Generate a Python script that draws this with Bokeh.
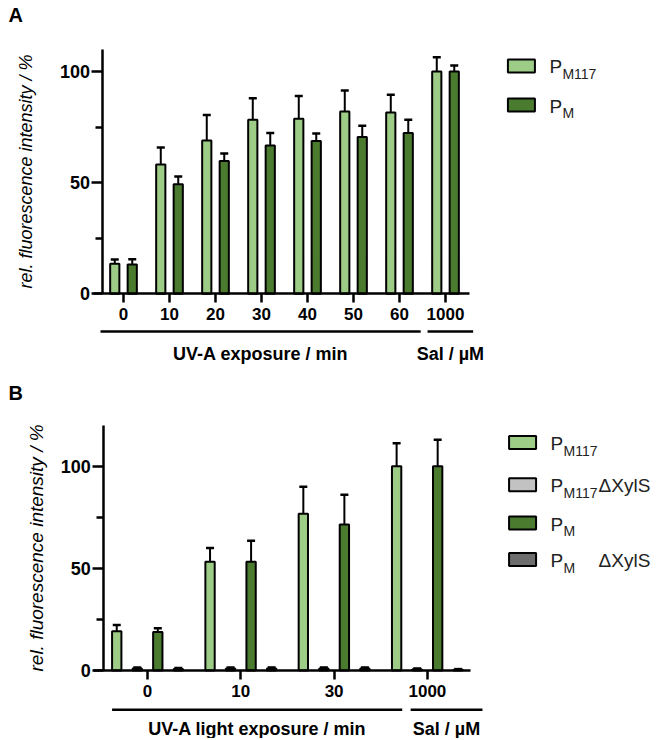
import math
from bokeh.plotting import figure
from bokeh.models import Range1d, LinearAxis, FixedTicker, Whisker, TeeHead, ColumnDataSource
from bokeh.layouts import column
from bokeh.embed import file_html
from bokeh.resources import INLINE
from bokeh.core.properties import value

FONT = "Liberation Sans"

# ---------------- data: panel A ----------------
a_categories = ["0", "10", "20", "30", "40", "50", "60", "1000"]
a_pm117 = [13.5, 58.2, 69.0, 78.3, 78.7, 82.0, 81.6, 100.0]
a_pm117_err = [1.9, 7.6, 11.4, 9.7, 10.3, 9.5, 7.9, 6.4]
a_pm = [13.2, 49.3, 59.7, 66.7, 68.7, 70.5, 72.3, 100.0]
a_pm_err = [2.4, 3.5, 3.4, 5.6, 3.4, 5.1, 6.0, 2.7]
a_groups = ["UV-A exposure / min", "Sal / µM"]

# ---------------- data: panel B ----------------
b_categories = ["0", "10", "30", "1000"]
b_pm117 = [19.2, 53.3, 76.7, 100.0]
b_pm117_err = [3.1, 6.7, 13.3, 11.3]
b_pm117_dx = [1.0, 1.0, 1.0, 0.6]
b_pm117_dx_err = [0.5, 0.5, 0.5, 0.4]
b_pm = [18.8, 53.3, 71.5, 100.0]
b_pm_err = [1.9, 10.2, 14.6, 13.0]
b_pm_dx = [0.8, 1.0, 1.0, 0.4]
b_pm_dx_err = [0.4, 0.5, 0.5, 0.3]
b_groups = ["UV-A light exposure / min", "Sal / µM"]

y_ticks = [0, 50, 100]
y_minor = [25, 75]
y_title = "rel. fluorescence intensity / %"

LIGHT = "#9dcc86"
DARK = "#4b7b2e"
GREY = "#c2c2c2"
DGREY = "#6d6d6d"


def make_fig(w, h, xr, yr):
    p = figure(width=w, height=h, x_range=Range1d(*xr), y_range=Range1d(*yr),
               output_backend="svg", toolbar_location=None,
               x_axis_type=None, y_axis_type=None, min_border=0)
    p.outline_line_color = None
    p.background_fill_color = "white"
    return p


def add_axes(p, yloc, ybounds, xbounds, cats, ytick_size="18px", xtick_size="17px"):
    ya = LinearAxis(fixed_location=yloc, bounds=ybounds,
                    ticker=FixedTicker(ticks=y_ticks, minor_ticks=y_minor))
    ya.axis_line_width = 2.5
    ya.major_tick_line_width = 2.5
    ya.minor_tick_line_width = 2.5
    ya.major_tick_out = 11
    ya.major_tick_in = 0
    ya.minor_tick_out = 7
    ya.minor_tick_in = 0
    ya.major_label_standoff = 2
    ya.major_label_text_font = FONT
    ya.major_label_text_font_style = "bold"
    ya.major_label_text_font_size = ytick_size
    ya.major_label_text_color = "black"
    p.add_layout(ya, "left")

    xa = LinearAxis(fixed_location=0, bounds=xbounds,
                    ticker=FixedTicker(ticks=list(range(len(cats)))),
                    major_label_overrides={i: c for i, c in enumerate(cats)})
    xa.axis_line_width = 2.5
    xa.major_tick_line_width = 2.5
    xa.minor_tick_line_color = None
    xa.major_tick_out = 9
    xa.major_tick_in = 0
    xa.major_label_standoff = 5
    xa.major_label_text_font = FONT
    xa.major_label_text_font_style = "bold"
    xa.major_label_text_font_size = xtick_size
    xa.major_label_text_color = "black"
    p.add_layout(xa, "below")


def add_series(p, vals, errs, offset, width, color):
    xs = [i + offset for i in range(len(vals))]
    src = ColumnDataSource(dict(x=xs, top=vals, upper=[v + e for v, e in zip(vals, errs)]))
    p.vbar(x="x", top="top", bottom=0, width=width, source=src,
           fill_color=color, line_color="black", line_width=2)
    wk = Whisker(source=src, base="x", lower="top", upper="upper", dimension="height",
                 line_color="black", line_width=2, lower_head=None,
                 upper_head=TeeHead(size=8, line_color="black", line_width=2.5))
    p.add_layout(wk)


def add_groups(p, labels, spans, line_y, label_y, size="18px"):
    p.segment(x0=[s[0] for s in spans], y0=[line_y] * len(spans),
              x1=[s[1] for s in spans], y1=[line_y] * len(spans),
              line_color="black", line_width=2.5)
    p.text(x=[(s[0] + s[1]) / 2 for s in spans], y=[label_y] * len(spans), text=labels,
           text_font=value(FONT), text_font_style="bold", text_font_size=size,
           text_align="center", text_baseline="middle", text_color="black")


def add_legend(p, bx, rows_y, entries, colors):
    p.rect(x=[bx] * len(rows_y), y=rows_y, width=27, height=13,
           width_units="screen", height_units="screen",
           fill_color=colors, line_color="black", line_width=2)
    p.text(x=[bx] * len(rows_y), y=rows_y, text=[e[0] for e in entries],
           x_offset=28, y_offset=1,
           text_font=value(FONT), text_font_size="19px", text_align="left",
           text_baseline="middle", text_color="#222222")
    p.text(x=[bx] * len(rows_y), y=rows_y, text=[e[1] for e in entries],
           x_offset=41, y_offset=8,
           text_font=value(FONT), text_font_size="14px", text_align="left",
           text_baseline="middle", text_color="#222222")
    p.text(x=[bx] * len(rows_y), y=rows_y, text=[e[2] for e in entries],
           x_offset=76, y_offset=1,
           text_font=value(FONT), text_font_size="19px", text_align="left",
           text_baseline="middle", text_color="#222222")


def add_text(p, x, y, t, size, style, angle=0.0, align="center"):
    p.text(x=[x], y=[y], text=[t], angle=angle, text_font=value(FONT),
           text_font_size=size, text_font_style=style, text_align=align,
           text_baseline="middle", text_color="black")


# ---------------- panel A ----------------
pa = make_fig(658, 372, (-2.674, 11.63), (-35.4, 131.94))
add_series(pa, a_pm117, a_pm117_err, -0.19, 0.2, LIGHT)
add_series(pa, a_pm, a_pm_err, 0.19, 0.2, DARK)
add_axes(pa, -0.446, (0, 110), (-0.652, 7.52), a_categories)
add_groups(pa, a_groups, [(-0.5, 6.46), (6.61, 7.6)], -17.0, -27.0)
add_text(pa, -2.13, 55, y_title, "18px", "italic", angle=math.pi / 2)
add_text(pa, -2.5, 125.2, "A", "20px", "bold", align="left")
add_legend(pa, 8.65, [102.5, 84.9], [("P", "M117", ""), ("P", "M", "")], [LIGHT, DARK])

# ---------------- panel B ----------------
pb = make_fig(658, 366, (-1.576, 5.477), (-33.28, 145.9))
add_series(pb, b_pm117, b_pm117_err, -0.33, 0.1, LIGHT)
add_series(pb, b_pm117_dx, b_pm117_dx_err, -0.11, 0.1, GREY)
add_series(pb, b_pm, b_pm_err, 0.11, 0.1, DARK)
add_series(pb, b_pm_dx, b_pm_dx_err, 0.33, 0.1, DGREY)
add_axes(pb, -0.468, (0, 120), (-0.579, 3.46), b_categories)
add_groups(pb, b_groups, [(-0.38, 2.73), (2.82, 3.59)], -19.2, -28.4)
add_text(pb, -1.19, 60, y_title, "19px", "italic", angle=math.pi / 2)
add_text(pb, -1.49, 136.0, "B", "20px", "bold", align="left")
add_legend(pb, 4.02, [111.6, 91.0, 72.2, 54.3],
           [("P", "M117", ""), ("P", "M117", "ΔXylS"), ("P", "M", ""), ("P", "M", "ΔXylS")],
           [LIGHT, GREY, DARK, DGREY])

layout = column(pa, pb, spacing=0)
open("out.html", "w").write(file_html(layout, INLINE))
